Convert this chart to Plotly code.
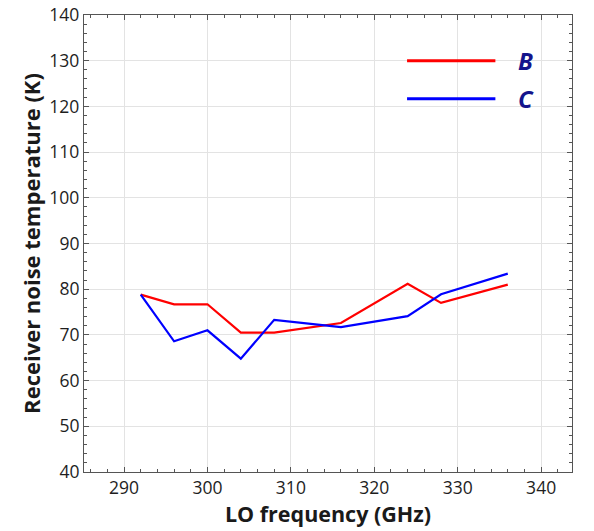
import plotly.graph_objects as go

freq = [292, 296, 300, 304, 308, 316, 324, 328, 336]
temp_B = [78.8, 76.7, 76.7, 70.5, 70.5, 72.6, 81.2, 77.0, 81.0]
temp_C = [78.8, 68.6, 71.0, 64.8, 73.3, 71.7, 74.1, 78.9, 83.4]
series_names = ["B", "C"]
series_colors = ["#ff0000", "#0000ff"]

fig = go.Figure()
for name, ys, col in zip(series_names, [temp_B, temp_C], series_colors):
    fig.add_trace(go.Scatter(x=freq, y=ys, mode="lines", name=name,
                             line=dict(color=col, width=2.2), showlegend=False))

# manual legend (long line samples)
leg_y = [0.90, 0.817]
for name, col, ly in zip(series_names, series_colors, leg_y):
    fig.add_shape(type="line", xref="paper", yref="paper", x0=0.662, x1=0.843, y0=ly, y1=ly,
                  line=dict(color=col, width=3))
    fig.add_annotation(xref="paper", yref="paper", x=0.885, y=ly, text="<b><i>%s</i></b>" % name,
                       showarrow=False, xanchor="left", yanchor="middle",
                       font=dict(family="Open Sans", size=24, color="#14148c"))

axis_common = dict(showline=True, linecolor="#555555", linewidth=1.2, mirror="ticks",
                   ticks="inside", ticklen=5, tickcolor="#555555",
                   showgrid=True, gridcolor="#e3e3e3", gridwidth=1,
                   zeroline=False, automargin=False,
                   tickfont=dict(family="Open Sans", size=17.5, color="#1e1e1e"))

fig.update_xaxes(range=[285.2, 343.7], tickvals=[290, 300, 310, 320, 330, 340],
                 minor=dict(dtick=2, tick0=290, ticks="inside", ticklen=3, tickcolor="#555555", showgrid=False),
                 title=dict(text="<b>LO frequency (GHz)</b>", standoff=4,
                            font=dict(family="Open Sans", size=21.5, color="#1a1a1a")),
                 **axis_common)
fig.update_yaxes(range=[40, 140], dtick=10,
                 minor=dict(dtick=2, ticks="inside", ticklen=3, tickcolor="#555555", showgrid=False),
                 title=dict(text="<b>Receiver noise temperature (K)</b>", standoff=2,
                            font=dict(family="Open Sans", size=22, color="#1a1a1a")),
                 **axis_common)

fig.update_layout(width=594, height=531, margin=dict(l=84, r=22, t=15, b=59),
                  plot_bgcolor="white", paper_bgcolor="white")

fig.write_html("out.html")
